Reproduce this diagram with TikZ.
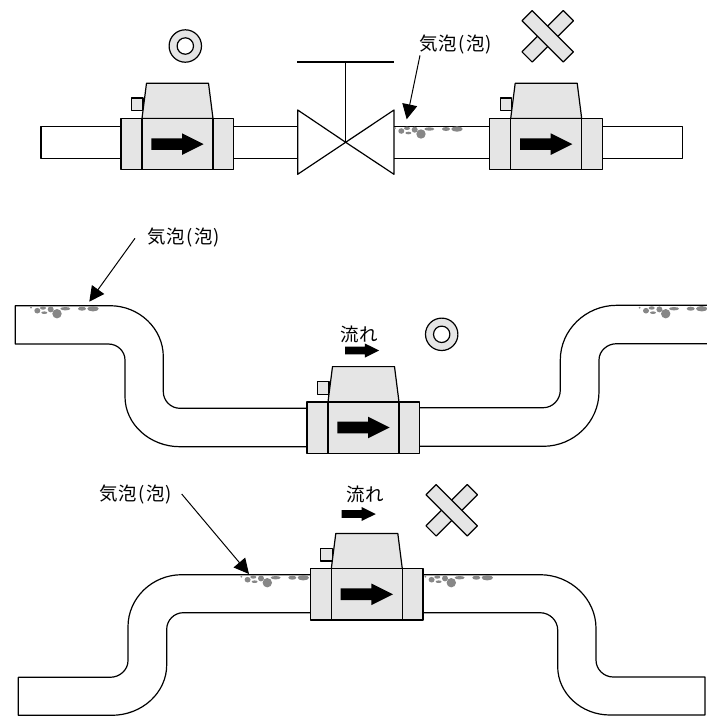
\documentclass[tikz,border=0pt]{standalone}
\usepackage{fontspec}
\usetikzlibrary{arrows.meta}
\newfontfamily\jpfont{Noto Sans CJK JP}
\tikzset{
  pipeline/.style={line width=1.2pt,line join=round},
  metergray/.style={fill=black!10,draw=black,line width=1.2pt,line join=round},
  leader/.style={line width=1pt,-{Triangle[length=15pt,width=15pt]}},
  jplabel/.style={font=\jpfont\fontsize{18.5}{18.5}\selectfont,inner sep=0pt},
}
\newcommand{\flowarrow}[3]{
  \begin{scope}[shift={(#1,#2)},scale=#3]
    \fill (0,-5.85)--(30.7,-5.85)--(30.7,-10.8)--(52.4,0)--(30.7,10.8)--(30.7,5.85)--(0,5.85)--cycle;
  \end{scope}
}
\newcommand{\flowmeter}[2]{
  \begin{scope}[shift={(#1,#2)}]
    \draw [metergray] (10.5,-20.5) rectangle (22,-7.8);
    \draw [metergray] (21,0)--(25.5,-35.3)--(87.5,-35.3)--(92,0)--cycle;
    \draw [metergray] (0,0) rectangle (112.7,51.2);
    \draw [line width=1.5pt] (21,0)--(21,51.2);
    \draw [line width=1.5pt] (92,0)--(92,51.2);
    \flowarrow{30.3}{25.6}{1}
  \end{scope}
}
\newcommand{\bubbles}[2]{
  \begin{scope}[shift={(#1,#2)}]
    \foreach \bx/\by/\rx/\ry in {-26/-6/1/1,-19.7/-3/3/2.8,-14/-5.7/3/1.7,-12.7/-1/3/1.3,-6.3/-4.3/3/3,0/0/4.7/4.7,8.3/-5/5/1.7,25/-5/4/2,36/-5/5.7/2.7}{
      \fill [black!47] (\bx,\by) ellipse [x radius=\rx,y radius=\ry];
    }
  \end{scope}
}
\newcommand{\goodmark}[2]{
  \draw [metergray,even odd rule] (#1,#2) circle [radius=16.2] (#1,#2) circle [radius=8.2];
}
\newcommand{\badmark}[2]{
  \begin{scope}[shift={(#1,#2)}]
    \draw [metergray,rotate=45] (-29.2,-7.2) rectangle (29.2,7.2);
    \draw [metergray,rotate=-45] (-29.2,-7.2) rectangle (29.2,7.2);
  \end{scope}
}
\newcommand{\bubbletext}{気泡\kern1.8pt(\kern1.8pt泡\kern.5pt)}
\begin{document}
\begin{tikzpicture}[x=1pt,y=-1pt]
  \useasboundingbox (0,0) rectangle (707,716);
  % top row
  \draw [pipeline] (121,126.3)--(41,126.3)--(41,158.3)--(121,158.3);
  \draw [pipeline] (233.7,126.3)--(297.7,126.3) (233.7,158.3)--(297.7,158.3);
  \draw [pipeline] (394,126.3)--(489.7,126.3) (394,158.3)--(489.7,158.3);
  \draw [pipeline] (602.4,126.3)--(682.3,126.3)--(682.3,158.3)--(602.4,158.3);
  \draw [pipeline] (345.7,142.3)--(297.7,110)--(297.7,174.3)--(394,110)--(394,174.3)--cycle;
  \draw [pipeline] (345.7,142.3)--(345.7,62);
  \draw [line width=1.6pt] (297.2,62)--(394,62);
  \flowmeter{121}{118.5}
  \flowmeter{489.7}{118.5}
  \bubbles{421}{134}
  \goodmark{185.3}{46}
  \badmark{547.7}{36.3}
  \node [jplabel] (lblA) at (456,45) {\bubbletext};
  \coordinate (fromA) at (420,55.3);
  \coordinate (tipA) at (406.7,119.3);
  \draw [leader] (fromA)--(tipA);
  % middle pipe
  \draw [pipeline] (307,408.3)--(180,408.3) .. controls (170.8,408.3) and (163.3,400.8) .. (163.3,391.7)--(163.3,356.7) .. controls (163.3,328.7) and (139.3,305.7) .. (110,305.7)--(15.3,305.7)--(15.3,344)--(108.3,344) .. controls (117.5,344) and (125,351.2) .. (125,360)--(125,396.7) .. controls (125,424.2) and (149.8,446.7) .. (180,446.7)--(307,446.7);
  \draw [pipeline] (707,305.3)--(616.7,305.3) .. controls (585.7,305.3) and (560.3,330) .. (560.3,360)--(560.3,390) .. controls (560.3,399.7) and (552.7,407.7) .. (543.3,407.7)--(419.7,407.7);
  \draw [pipeline] (707,343.7)--(616.7,343.7) .. controls (607,343.7) and (599,351) .. (599,360)--(599,391.7) .. controls (599,421.7) and (573.9,446.3) .. (543.3,446.3)--(419.7,446.3);
  \flowmeter{307}{401.9}
  \bubbles{57}{313.7}
  \bubbles{665.7}{313.7}
  \goodmark{441.7}{334.3}
  \flowarrow{345}{350.5}{.65}
  \node [jplabel] (lblB) at (184,238) {\bubbletext};
  \node [jplabel] (flowB) at (359,334) {流れ};
  \coordinate (fromB) at (135,238.3);
  \coordinate (tipB) at (89.3,301.7);
  \draw [leader] (fromB)--(tipB);
  % bottom pipe
  \draw [pipeline] (310,574.7)--(181.7,574.7) .. controls (152.2,574.7) and (128,598.1) .. (128,626.7)--(128,660.7) .. controls (128,669.8) and (119.9,677.3) .. (110,677.3)--(18.3,677.3)--(18.3,715.3)--(111.7,715.3) .. controls (142,715.3) and (166.7,692.7) .. (166.7,665)--(166.7,629.3) .. controls (166.7,620.2) and (174.2,612.7) .. (183.3,612.7)--(310,612.7);
  \draw [pipeline] (423,574.7)--(540,574.7) .. controls (570.8,574.7) and (596,599) .. (596,628.3)--(596,660) .. controls (596,669.4) and (603.8,677) .. (613.3,677)--(705,677)--(705,715)--(610,715) .. controls (581.2,715) and (557.7,693.3) .. (557.7,666.7)--(557.7,630) .. controls (557.7,620.5) and (549.7,612.7) .. (540,612.7)--(423,612.7);
  \flowmeter{310.3}{568.7}
  \bubbles{267.3}{582.7}
  \bubbles{451.3}{582.7}
  \badmark{451.7}{510.3}
  \flowarrow{341.7}{514}{.65}
  \node [jplabel] (lblC) at (136,494.3) {\bubbletext};
  \node [jplabel] (flowC) at (365,494) {流れ};
  \coordinate (fromC) at (181.7,494);
  \coordinate (tipC) at (249,574);
  \draw [leader] (fromC)--(tipC);
\end{tikzpicture}
\end{document}
